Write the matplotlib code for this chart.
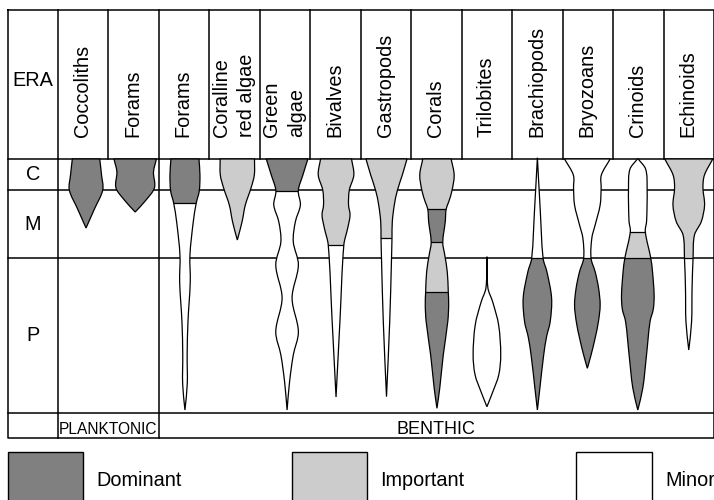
import numpy as np
import matplotlib.pyplot as plt
from matplotlib.path import Path
from matplotlib.patches import PathPatch, Rectangle

plt.rcParams['font.family'] = ['Liberation Sans', 'DejaVu Sans']

# ---- labels ----
taxa = ['Coccoliths', 'Forams', 'Forams', 'Coralline\nred algae', 'Green\nalgae',
        'Bivalves', 'Gastropods', 'Corals', 'Trilobites', 'Brachiopods',
        'Bryozoans', 'Crinoids', 'Echinoids']
eras = ['C', 'M', 'P']
habitat = ['PLANKTONIC', 'BENTHIC']
legend_labels = ['Dominant', 'Important', 'Minor']

# ---- spindle profiles: depth below top of C row, half width ----
# bands: (start depth, abundance class)  D = dominant, I = important, M = minor
coccoliths_d = [0, 16, 31, 50, 69]
coccoliths_w = [13.7, 15.5, 16.7, 8.4, 0]
coccoliths_bands = [(0, 'D')]

pforams_d = [0, 13, 29, 42, 53]
pforams_w = [21.2, 18.3, 19.2, 10, 0]
pforams_bands = [(0, 'D')]

bforams_d = [0, 16, 32, 44, 63, 96, 123, 163, 196, 225, 251]
bforams_w = [14, 15, 14.3, 11.3, 8.3, 5, 5.3, 3, 2.2, 2.3, 0]
bforams_bands = [(0, 'D'), (44.3, 'M')]

coralline_d = [0, 16, 29, 46, 63, 81]
coralline_w = [17.2, 17, 13.7, 8, 4.7, 0]
coralline_bands = [(0, 'I')]

green_d = [0, 16, 31.7, 46, 62.7, 82.7, 106, 139, 172.7, 196, 222.7, 251]
green_w = [20.8, 15.8, 11.2, 13.3, 8.3, 6.2, 11.3, 5, 11.3, 6.2, 2.5, 0]
green_bands = [(0, 'D'), (31.7, 'M')]

bivalves_d = [0, 16, 31, 46, 56, 69, 86, 160, 238]
bivalves_w = [15.5, 17.8, 13.3, 12.5, 14, 11.7, 7.8, 4, 0]
bivalves_bands = [(0, 'I'), (86, 'M')]

gastropods_d = [0, 16, 31.7, 46, 62.7, 78.7, 100, 163, 237.7]
gastropods_w = [20.5, 15.8, 10.8, 7.8, 5.8, 5.5, 5, 3.2, 0]
gastropods_bands = [(0, 'I'), (78.7, 'M')]

corals_d = [0, 16, 31.7, 43, 50, 62.7, 83.3, 96, 112.7, 132.7, 146, 162.7, 196, 229, 249.3]
corals_w = [14.2, 17.2, 15, 11.7, 9.2, 8.3, 5.8, 7.8, 10.3, 11.3, 11.7, 10.8, 6.3, 2.8, 0]
corals_bands = [(0, 'I'), (50, 'D'), (83.3, 'I'), (132.7, 'D')]

trilobites_d = [97.7, 129, 143, 166, 196, 216, 233, 247.7]
trilobites_w = [0, 1.0, 5.8, 11.7, 13.8, 11.8, 5.8, 0]
trilobites_bands = [(97.7, 'M')]

brachiopods_d = [-1.3, 50, 99.3, 112.7, 139, 162.7, 177.7, 196, 229, 251]
brachiopods_w = [0, 2.8, 5.7, 9.5, 14.2, 12.8, 9.2, 6.3, 2.5, 0]
brachiopods_bands = [(-1.3, 'M'), (99.3, 'D')]

bryozoans_d = [0, 16, 29, 46, 66, 79, 99.3, 112.7, 129, 146, 163, 179, 196, 209.3]
bryozoans_w = [22.8, 14, 13.8, 12.8, 7.8, 4.5, 3.7, 7.8, 11.2, 12.8, 11, 7.8, 3.7, 0]
bryozoans_bands = [(0, 'M'), (99.3, 'D')]

crinoids_d = [-0.5, 10, 29, 62, 72.7, 99.3, 112.7, 136, 150, 162.7, 196, 229, 251]
crinoids_w = [0, 7.8, 9.3, 8.8, 7.5, 13, 14.7, 16.3, 15.5, 12.2, 8.7, 5, 0]
crinoids_bands = [(-0.5, 'M'), (72.7, 'I'), (99.3, 'D')]

echinoids_d = [0, 16, 29, 46, 62.7, 76, 99.3, 129, 163, 191]
echinoids_w = [24, 15.7, 14.2, 15.8, 12.5, 5.7, 4.3, 3.3, 2.8, 0]
echinoids_bands = [(0, 'I'), (99.3, 'M')]

profiles = [
    (coccoliths_d, coccoliths_w, coccoliths_bands, 2.8),
    (pforams_d, pforams_w, pforams_bands, 1.5),
    (bforams_d, bforams_w, bforams_bands, 0.8),
    (coralline_d, coralline_w, coralline_bands, 2.7),
    (green_d, green_w, green_bands, 2.0),
    (bivalves_d, bivalves_w, bivalves_bands, 0.5),
    (gastropods_d, gastropods_w, gastropods_bands, 0.5),
    (corals_d, corals_w, corals_bands, 0.5),
    (trilobites_d, trilobites_w, trilobites_bands, 0),
    (brachiopods_d, brachiopods_w, brachiopods_bands, 0),
    (bryozoans_d, bryozoans_w, bryozoans_bands, -0.5),
    (crinoids_d, crinoids_w, crinoids_bands, -0.5),
    (echinoids_d, echinoids_w, echinoids_bands, 0),
]

colors = {'D': '#808080', 'I': '#cccccc', 'M': '#ffffff'}

# ---- layout (x in px from left, y = depth below header) ----
LEFT, RIGHT = 7.5, 713.5
TOP, BOTTOM = -149.5, 278.5
era_edges = [0, 31, 99, 253.5]
col_edges = np.linspace(58, 714, 14)
GRID = dict(color='black', lw=1.1, zorder=1, solid_capstyle='projecting')


def side_path(d, w, cx, sign):
    # cubic Hermite in depth, emitted as bezier segments
    d = np.asarray(d, float)
    x = cx + sign * np.asarray(w, float)
    n = len(d)
    m = np.zeros(n)
    m[0] = (x[1] - x[0]) / (d[1] - d[0])
    m[-1] = (x[-1] - x[-2]) / (d[-1] - d[-2])
    for i in range(1, n - 1):
        m[i] = (x[i + 1] - x[i - 1]) / (d[i + 1] - d[i - 1])
    verts = []
    for i in range(n - 1):
        h = d[i + 1] - d[i]
        verts += [(x[i] + m[i] * h / 3, d[i] + h / 3),
                  (x[i + 1] - m[i + 1] * h / 3, d[i + 1] - h / 3),
                  (x[i + 1], d[i + 1])]
    return (x[0], d[0]), verts


fig = plt.figure(figsize=(7.14, 5.00), dpi=100)
ax = fig.add_axes([0, 0, 1, 1])
ax.set_xlim(0, 714)
ax.set_ylim(500 - 159, -159)
ax.axis('off')

# grid
ax.plot([LEFT, RIGHT, RIGHT, LEFT, LEFT], [TOP, TOP, BOTTOM, BOTTOM, TOP], **GRID)
ax.plot([LEFT, RIGHT], [0, 0], **GRID)
for e in era_edges[1:]:
    ax.plot([LEFT, RIGHT], [e, e], **GRID)
for xe in col_edges[:-1]:
    ax.plot([xe, xe], [TOP, 0], **GRID)
ax.plot([col_edges[0], col_edges[0]], [0, BOTTOM], **GRID)
ax.plot([col_edges[2], col_edges[2]], [0, BOTTOM], **GRID)

# header
ax.text(33, -79, 'ERA', ha='center', va='center', fontsize=14.3)
for i, lab in enumerate(taxa):
    cx = (col_edges[i] + col_edges[i + 1]) / 2
    ax.text(cx - 1, -22, lab, rotation=90, rotation_mode='anchor', ha='left',
            va='center', multialignment='left', fontsize=14.3, linespacing=1.4)
for i, e in enumerate(eras):
    ax.text(33, (era_edges[i] + era_edges[i + 1]) / 2, e, ha='center', va='center',
            fontsize=14.3)

# habitat row
ax.text(col_edges[0] + 1, 275.3, habitat[0], ha='left', va='baseline', fontsize=11.2)
ax.text((col_edges[2] + RIGHT) / 2, 275.3, habitat[1], ha='center', va='baseline',
        fontsize=13)

# spindles
for i, (d, w, bands, dx) in enumerate(profiles):
    cx = (col_edges[i] + col_edges[i + 1]) / 2 + dx
    start, right = side_path(d, w, cx, 1)
    _, left = side_path(d[::-1], w[::-1], cx, -1)
    verts = [start] + right + left + [start]
    codes = [Path.MOVETO] + [Path.CURVE4] * (len(right) + len(left)) + [Path.CLOSEPOLY]
    outline = PathPatch(Path(verts, codes), facecolor='none', edgecolor='black',
                        lw=0.9, zorder=4)
    ax.add_patch(outline)
    ends = [b[0] for b in bands[1:]] + [d[-1] + 1]
    for k, ((b0, cat), b1) in enumerate(zip(bands, ends)):
        r = Rectangle((cx - 40, b0 - (2 if k == 0 else 0)), 80, b1 - b0 + (2 if k == 0 else 0),
                      facecolor=colors[cat], edgecolor='none', zorder=3)
        ax.add_patch(r)
        r.set_clip_path(outline)
        if k > 0:
            ln, = ax.plot([cx - 40, cx + 40], [b0, b0], color='black', lw=0.9, zorder=4)
            ln.set_clip_path(outline)

# legend
box_x = [(8, 83), (292, 367), (576, 652)]
for (x0, x1), lab, cat in zip(box_x, legend_labels, ['D', 'I', 'M']):
    ax.add_patch(Rectangle((x0, 293.3), x1 - x0, 60, facecolor=colors[cat],
                           edgecolor='black', lw=1.0, zorder=2))
    ax.text(x1 + 13, 326.7, lab, ha='left', va='baseline', fontsize=14.3)

fig.savefig('out.png', dpi=100)
